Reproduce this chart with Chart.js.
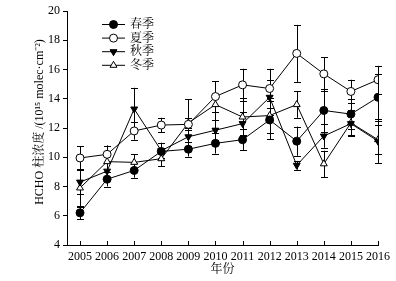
<!DOCTYPE html>
<html>
<head>
<meta charset="utf-8">
<script src="https://cdn.jsdelivr.net/npm/chart.js@4/dist/chart.umd.min.js"></script>
<style>
  html, body { margin: 0; padding: 0; background: #fff; }
  #wrap { width: 396px; height: 281px; }
</style>
</head>
<body>
<div id="wrap"><canvas id="hchoChart"></canvas></div>
<script>
const years = [2005, 2006, 2007, 2008, 2009, 2010, 2011, 2012, 2013, 2014, 2015, 2016];

const spring = [6.2, 8.5, 9.1, 10.4, 10.55, 10.95, 11.2, 12.55, 11.1, 13.2, 12.95, 14.1];
const springErr = [0.45, 0.5, 0.5, 0.6, 0.5, 0.7, 0.7, 1.3, 1.0, 1.5, 1.0, 1.6];

const summer = [9.95, 10.2, 11.8, 12.2, 12.25, 14.15, 14.95, 14.7, 17.1, 15.7, 14.5, 15.3];
const summerErr = [0.8, 0.6, 0.6, 0.5, 0.4, 1.05, 1.1, 1.35, 1.95, 1.15, 0.8, 0.95];

const autumn = [8.3, 9.05, 13.3, 10.45, 11.4, 11.85, 12.3, 14.1, 9.45, 11.45, 12.3, 11.1];
const autumnErr = [0.8, 0.6, 1.45, 0.5, 0.6, 0.7, 0.8, 1.2, 0.3, 0.8, 0.8, 1.5];

const winter = [7.9, 9.7, 9.65, 9.9, 12.35, 13.6, 12.75, 12.85, 13.6, 9.55, 12.35, 11.2];
const winterErr = [1.3, 1.1, 0.55, 0.5, 1.6, 1.6, 1.3, 1.2, 0.9, 0.9, 0.9, 1.0];

const seasonNames = ['春季', '夏季', '秋季', '冬季'];
const yTitle = 'HCHO 柱浓度 /(10¹⁵ molec·cm⁻²)';

const serif = '"Liberation Serif", "Times New Roman", "Noto Serif CJK SC", "Noto Sans CJK SC", serif';

const toPoints = (vals) => vals.map((v, i) => ({ x: years[i], y: v }));

function makeSet(label, vals, errs, style, fill, rot) {
  return {
    label: label,
    data: toPoints(vals),
    errors: errs,
    borderColor: '#000',
    borderWidth: 1,
    pointStyle: style,
    pointRotation: rot,
    pointRadius: 4,
    pointBackgroundColor: fill,
    pointBorderColor: '#000',
    pointBorderWidth: 1,
    tension: 0
  };
}

// error bars, x ticks (inside), legend and y title
const extras = {
  id: 'extras',
  beforeDatasetsDraw(chart) {
    const ctx = chart.ctx;
    const xs = chart.scales.x, ys = chart.scales.y;
    ctx.save();
    ctx.strokeStyle = '#000';
    ctx.lineWidth = 1;
    chart.data.datasets.forEach(ds => {
      ds.data.forEach((p, i) => {
        const e = ds.errors[i];
        const px = Math.round(xs.getPixelForValue(p.x)) + 0.5;
        const top = ys.getPixelForValue(p.y + e);
        const bot = ys.getPixelForValue(p.y - e);
        ctx.beginPath();
        ctx.moveTo(px, top); ctx.lineTo(px, bot);
        ctx.moveTo(px - 3.5, Math.round(top) + 0.5); ctx.lineTo(px + 3.5, Math.round(top) + 0.5);
        ctx.moveTo(px - 3.5, Math.round(bot) + 0.5); ctx.lineTo(px + 3.5, Math.round(bot) + 0.5);
        ctx.stroke();
      });
    });
    // inward ticks on the x axis
    const b = chart.chartArea.bottom;
    years.forEach(yr => {
      const px = Math.round(xs.getPixelForValue(yr)) + 0.5;
      ctx.beginPath();
      ctx.moveTo(px, b); ctx.lineTo(px, b - 4);
      ctx.stroke();
    });
    ctx.restore();
  },
  afterDraw(chart) {
    const ctx = chart.ctx;
    ctx.save();
    ctx.font = '12px ' + serif;
    ctx.textBaseline = 'middle';
    chart.data.datasets.forEach((ds, i) => {
      const y = 24 + i * 13.6;
      ctx.strokeStyle = '#000';
      ctx.lineWidth = 1;
      ctx.beginPath();
      ctx.moveTo(102, y + 0.5); ctx.lineTo(125, y + 0.5);
      ctx.stroke();
      ctx.fillStyle = ds.pointBackgroundColor;
      Chart.helpers.drawPoint(ctx, {
        pointStyle: ds.pointStyle, rotation: ds.pointRotation, radius: 4, borderWidth: 1
      }, 113.5, y + 0.5);
      ctx.fillStyle = '#000';
      ctx.fillText(ds.label, 130, y + 1);
    });
    // rotated y title
    ctx.translate(40, 122);
    ctx.rotate(-Math.PI / 2);
    ctx.textAlign = 'center';
    ctx.fillText(yTitle, 0, 0);
    ctx.restore();
  }
};

new Chart(document.getElementById('hchoChart'), {
  type: 'line',
  data: {
    datasets: [
      makeSet(seasonNames[0], spring, springErr, 'circle', '#000', 0),
      makeSet(seasonNames[1], summer, summerErr, 'circle', '#fff', 0),
      makeSet(seasonNames[2], autumn, autumnErr, 'triangle', '#000', 180),
      makeSet(seasonNames[3], winter, winterErr, 'triangle', '#fff', 0)
    ]
  },
  options: {
    responsive: true,
    maintainAspectRatio: false,
    animation: false,
    devicePixelRatio: 1,
    layout: { padding: { left: 0, top: 11, right: 18, bottom: 0 } },
    plugins: { legend: { display: false }, tooltip: { enabled: false } },
    scales: {
      x: {
        type: 'linear',
        min: 2004.52,
        max: 2016,
        afterBuildTicks: (s) => { s.ticks = years.map(v => ({ value: v })); },
        afterFit: (s) => { s.height = 36; },
        grid: { drawOnChartArea: false, drawTicks: false, color: '#000' },
        border: { display: true, color: '#000', width: 1 },
        ticks: { color: '#000', padding: 5, maxRotation: 0, autoSkip: false, font: { family: serif, size: 12 }, callback: v => String(v) },
        title: { display: true, text: '年份', color: '#000', font: { family: serif, size: 12 }, padding: { top: 0, bottom: 4 } }
      },
      y: {
        min: 4,
        max: 20,
        afterFit: (s) => { s.width = 67; },
        grid: { drawOnChartArea: false, drawTicks: true, tickLength: 4, color: '#000' },
        border: { display: true, color: '#000', width: 1 },
        ticks: { stepSize: 2, color: '#000', padding: 3, font: { family: serif, size: 12 } }
      }
    }
  },
  plugins: [extras]
});
</script>
</body>
</html>
